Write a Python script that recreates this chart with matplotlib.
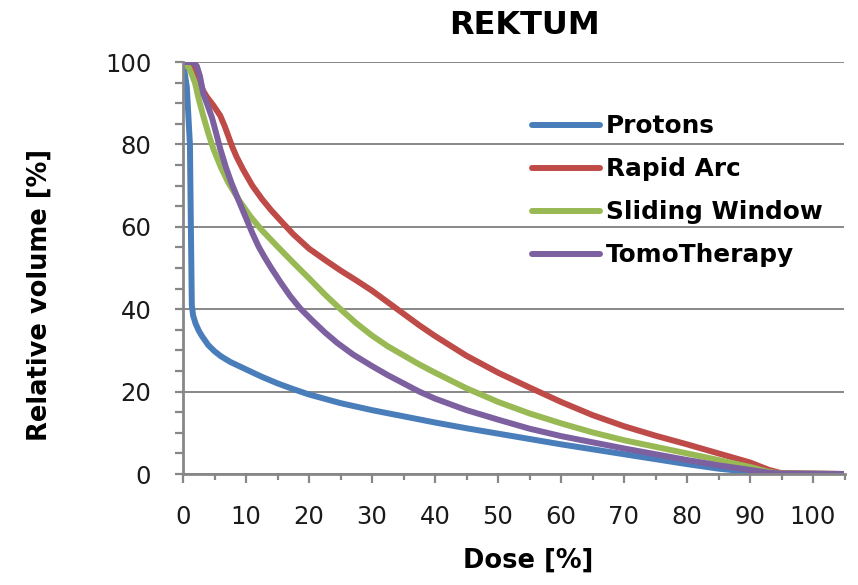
import matplotlib
matplotlib.use('Agg')
import matplotlib.pyplot as plt
from matplotlib.ticker import MultipleLocator

# Dose-volume histogram for the rectum.
SERIES_NAMES = ['Protons', 'Rapid Arc', 'Sliding Window', 'TomoTherapy']
SERIES_COLORS = ['#4A7EBB', '#BE4B48', '#98B954', '#7D60A0']

PROTONS_DOSE = [0, 0.6, 1.1, 1.25, 1.4, 1.6, 2, 2.5, 3, 4, 5, 6, 7.5, 10,
                12.5, 15, 17.5, 20, 25, 30, 35, 40, 45, 50, 55, 60, 65, 70,
                75, 80, 85, 90, 95, 105]
PROTONS_VOL = [100, 94, 80, 60, 41, 38.5, 36.5, 34.8, 33.5, 31.3, 29.8,
               28.6, 27.2, 25.4, 23.6, 22, 20.6, 19.3, 17.2, 15.5, 14, 12.5,
               11.1, 9.8, 8.5, 7.2, 6, 4.8, 3.6, 2.4, 1.3, 0.5, 0.1, 0]

RAPID_ARC_DOSE = [0, 1.5, 2.5, 3.2, 3.8, 4.8, 5.9, 6.6, 7.2, 7.8, 8.5, 9.5,
                  11, 12.5, 14, 15.5, 17.5, 20, 22.5, 25, 27.5, 30, 32.5, 35,
                  37.5, 40, 45, 50, 55, 60, 65, 70, 75, 80, 85, 90, 93, 95,
                  105]
RAPID_ARC_VOL = [100, 99, 96, 93, 91.5, 89.5, 87, 84.5, 82, 79.5, 77, 74,
                 70, 66.8, 64, 61.5, 58.2, 54.7, 52, 49.4, 47, 44.5, 41.7,
                 38.9, 36.1, 33.5, 28.7, 24.6, 21, 17.5, 14.3, 11.6, 9.3, 7.2,
                 5, 2.8, 1, 0.2, 0]

SLIDING_WINDOW_DOSE = [0, 1, 1.9, 2.5, 3.2, 4, 4.8, 6, 7.2, 9, 10.7, 12.5,
                       15, 17.5, 20, 22.5, 25, 27.5, 30, 32.5, 35, 37.5, 40,
                       45, 50, 55, 60, 65, 70, 75, 80, 85, 90, 93, 95, 105]
SLIDING_WINDOW_VOL = [100, 98.5, 95, 91, 87, 82.8, 79, 74.5, 70.7, 66.2,
                      62.5, 59.2, 55.2, 51.3, 47.5, 43.6, 40, 36.6, 33.6, 31,
                      28.8, 26.6, 24.6, 20.8, 17.5, 14.7, 12.3, 10.1, 8.2,
                      6.6, 5, 3.4, 1.7, 0.5, 0.1, 0]

TOMO_DOSE = [0, 1.6, 2.2, 2.7, 3.2, 3.9, 4.6, 5.3, 5.9, 6.8, 7.7, 8.8, 9.9,
             11, 12, 13, 14, 15.5, 17, 18.6, 20.5, 22.5, 24.5, 27, 30, 32.5,
             35, 37.5, 40, 45, 50, 55, 60, 65, 70, 75, 80, 85, 90, 93, 95,
             105]
TOMO_VOL = [100, 100, 99, 96.5, 92.4, 89.5, 86.5, 82.5, 79, 74.5, 70.6, 66.5,
            62.5, 58.5, 55.2, 52.5, 50, 46.5, 43.2, 40.2, 37.3, 34.4, 31.8,
            29, 26.2, 24, 22, 20, 18.3, 15.5, 13.2, 11, 9.2, 7.7, 6.2, 4.8,
            3.4, 2.1, 1, 0.3, 0.1, 0]

SERIES = [
    (PROTONS_DOSE, PROTONS_VOL),
    (RAPID_ARC_DOSE, RAPID_ARC_VOL),
    (SLIDING_WINDOW_DOSE, SLIDING_WINDOW_VOL),
    (TOMO_DOSE, TOMO_VOL),
]

plt.rcParams['font.family'] = ['DejaVu Sans']
AXIS_GREY = '#878787'

fig = plt.figure(figsize=(8.58, 5.85), dpi=100)
ax = fig.add_axes([183 / 858, 111 / 585, 661.5 / 858, 412 / 585])

for (dose, vol), name, color in zip(SERIES, SERIES_NAMES, SERIES_COLORS):
  ax.plot(dose, vol, color=color, lw=4.3, label=name,
          solid_capstyle='round', solid_joinstyle='round')

ax.set_xlim(0, 105)
ax.set_ylim(0, 100)
ax.xaxis.set_major_locator(MultipleLocator(10))
ax.xaxis.set_minor_locator(MultipleLocator(5))
ax.yaxis.set_major_locator(MultipleLocator(20))
ax.yaxis.set_minor_locator(MultipleLocator(5))

ax.grid(axis='y', which='major', color=AXIS_GREY, lw=1.4)
ax.set_axisbelow(True)
for side in ['top', 'right']:
  ax.spines[side].set_visible(False)
for side in ['left', 'bottom']:
  ax.spines[side].set_color(AXIS_GREY)
  ax.spines[side].set_linewidth(2.0)

ax.tick_params(axis='both', which='both', direction='out', color=AXIS_GREY,
               width=1.6, labelsize=17.5, labelcolor='#1a1a1a')
ax.tick_params(axis='x', which='major', length=6.5, pad=16)
ax.tick_params(axis='x', which='minor', length=4.3)
ax.tick_params(axis='y', which='both', length=5.8, pad=17)

ax.set_xlabel('Dose [%]', fontsize=18.5, fontweight='bold')
ax.set_ylabel('Relative volume [%]', fontsize=18.5, fontweight='bold')
ax.xaxis.set_label_coords((528 - 183) / 661.5, -(548 - 474) / 412)
ax.yaxis.set_label_coords(-(183 - 53) / 661.5, (474 - 295) / 412)

fig.text(524 / 858, 1 - 25 / 585, 'REKTUM', ha='center', va='center',
         fontsize=23, fontweight='bold')

leg = ax.legend(loc='upper left', bbox_to_anchor=(0.528, 0.873),
                frameon=False, fontsize=17.8, handlelength=2.75,
                handletextpad=0.24, labelspacing=0.77, borderpad=0,
                borderaxespad=0)
for text in leg.get_texts():
  text.set_fontweight('bold')

fig.savefig('out.png', dpi=100)
